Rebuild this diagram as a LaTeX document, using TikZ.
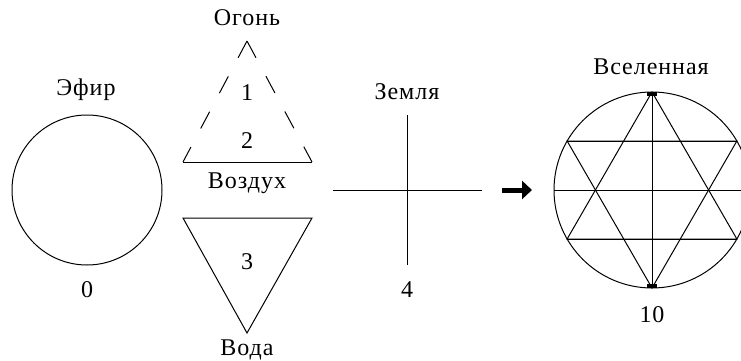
\documentclass[tikz,border=0pt]{standalone}
\usepackage{fontspec}
\setmainfont{Liberation Serif}[LetterSpace=4]
\usetikzlibrary{arrows.meta}
\begin{document}
\begin{tikzpicture}[x=1pt,y=-1pt,line width=1pt,
  lbl/.style={font=\fontsize{24}{28}\selectfont,inner sep=0pt},
  tick/.style={line width=3.5pt}]
  \useasboundingbox (0,0) rectangle (741,361);
  \clip (0,0) rectangle (741,361);
  \draw (87,190) circle (75pt);
  \node[lbl] (efir) at (86,90) {Эфир};
  \node[lbl] (n0) at (87,290) {0};
  \coordinate (top) at (247,41);
  \coordinate (bl) at (183,162);
  \coordinate (br) at (312,162);
  \draw[dash pattern=on 19pt off 21pt] (top) -- (bl) (top) -- (br);
  \draw (bl) -- (br);
  \draw (183,218) -- (312,218) -- (247,333) -- cycle;
  \node[lbl] (ogon) at (247,18) {Огонь};
  \node[lbl] (n1) at (247,93) {1};
  \node[lbl] (n2) at (247,141) {2};
  \node[lbl] (vozduh) at (247,183) {Воздух};
  \node[lbl] (n3) at (247,262) {3};
  \node[lbl] (voda) at (247,350) {Вода};
  \draw (407,115) -- (407,265) (333,190) -- (482,190);
  \node[lbl] (zemlya) at (407,92) {Земля};
  \node[lbl] (n4) at (407,290) {4};
  \draw[line width=5pt,-{Triangle[length=10pt,width=18pt]}] (502,190) -- (532,190);
  \begin{scope}[shift={(652,190)}]
    \draw (0,0) circle (98pt);
    \draw (90:98pt) -- (210:98pt) -- (330:98pt) -- cycle;
    \draw (270:98pt) -- (30:98pt) -- (150:98pt) -- cycle;
    \foreach \a in {30,180,210} {\draw (\a:98pt) -- (180-\a:98pt);}
    \draw (90:98pt) -- (270:98pt);
    \draw[tick] (-5,-96) -- (5,-96) (-5,96) -- (5,96);
  \end{scope}
  \node[lbl] (vselen) at (651,67) {Вселенная};
  \node[lbl] (n10) at (652,315) {10};
\end{tikzpicture}
\end{document}
